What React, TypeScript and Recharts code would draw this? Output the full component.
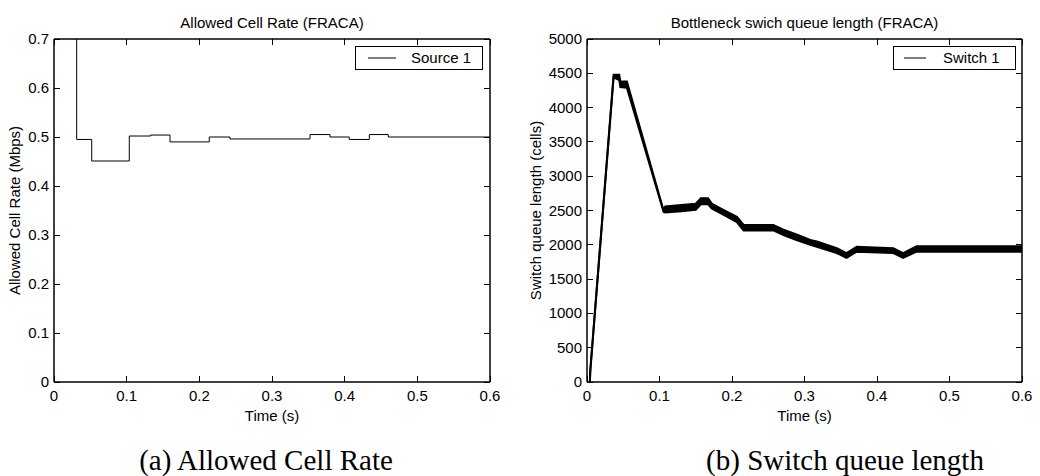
import React from 'react';
import { LineChart, Line, AreaChart, Area, XAxis, YAxis, Label } from 'recharts';

// allowed cell rate of source 1 (step function, Mbps)
const acrTime = [0, 0.0312, 0.0519, 0.1036, 0.133, 0.1596, 0.2137, 0.2422, 0.3523, 0.3798, 0.4063, 0.4339, 0.46, 0.6];
const acrRate = [1.0, 0.495, 0.451, 0.502, 0.504, 0.49, 0.5, 0.496, 0.505, 0.5, 0.495, 0.505, 0.5, 0.5];

// bottleneck switch queue (cells): the trace oscillates, so keep lower and upper edge of the band
const queueTime = [0.004, 0.0045, 0.0367, 0.0445, 0.046, 0.055, 0.1056, 0.108, 0.13, 0.15, 0.157, 0.167, 0.172, 0.188, 0.2067, 0.216, 0.257, 0.271, 0.289, 0.308, 0.317, 0.3445, 0.358, 0.372, 0.4225, 0.436, 0.4547, 0.6];
const queueLow = [0, 150, 4440, 4400, 4300, 4290, 2480, 2470, 2490, 2510, 2590, 2590, 2530, 2440, 2330, 2210, 2210, 2140, 2070, 2000, 1970, 1880, 1810, 1900, 1880, 1810, 1900, 1900];
const queueHigh = [0, 170, 4480, 4480, 4380, 4380, 2500, 2560, 2580, 2600, 2680, 2680, 2600, 2510, 2410, 2290, 2290, 2220, 2150, 2070, 2050, 1950, 1880, 1970, 1950, 1880, 1980, 1980];

const timeTicks = [0, 0.1, 0.2, 0.3, 0.4, 0.5, 0.6];
const rateTicks = [0, 0.1, 0.2, 0.3, 0.4, 0.5, 0.6, 0.7];
const queueTicks = [0, 500, 1000, 1500, 2000, 2500, 3000, 3500, 4000, 4500, 5000];

const acrData = acrTime.map((t, i) => ({ t, rate: acrRate[i] }));
const queueData = queueTime.map((t, i) => ({ t, band: [queueLow[i], queueHigh[i]] }));

const FONT = '"Liberation Sans", Arial, sans-serif';
const FS = 15;
const TL = 6; // inward tick length, matlab style
const axisLine = { stroke: '#000', strokeWidth: 1.5 };
const tickStroke = { stroke: '#000', strokeWidth: 1, shapeRendering: 'crispEdges' as const };

const BottomTick = ({ x, y, payload }: any) => (
  <g>
    <path d={`M${x},${y}V${y - TL}`} {...tickStroke} />
    <text x={x} y={y + 19} textAnchor="middle" fontSize={FS} fontFamily={FONT} fill="#000">
      {payload.value}
    </text>
  </g>
);
const TopTick = ({ x, y }: any) => <path d={`M${x},${y}V${y + TL}`} {...tickStroke} />;
const LeftTick = ({ x, y, payload }: any) => (
  <g>
    <path d={`M${x},${y}H${x + TL}`} {...tickStroke} />
    <text x={x - 5} y={y + 5} textAnchor="end" fontSize={FS} fontFamily={FONT} fill="#000">
      {payload.value}
    </text>
  </g>
);
const RightTick = ({ x, y }: any) => <path d={`M${x},${y}H${x - TL}`} {...tickStroke} />;

const txt = { fontSize: FS, fontFamily: FONT, fill: '#000' };

const timeLabel = ({ viewBox }: any) => (
  <text x={viewBox.x + viewBox.width / 2} y={viewBox.y + 39} textAnchor="middle" {...txt}>
    Time (s)
  </text>
);
const titleLabel = (value: string) => ({ viewBox }: any) => (
  <text x={viewBox.x + viewBox.width / 2} y={viewBox.y - 10} textAnchor="middle" {...txt}>
    {value}
  </text>
);
const yLabel = (value: string, dx: number) => ({ viewBox }: any) => {
  const cx = viewBox.x + viewBox.width - dx;
  const cy = viewBox.y + viewBox.height / 2;
  return (
    <text x={cx} y={cy} textAnchor="middle" dominantBaseline="central" transform={`rotate(-90 ${cx} ${cy})`} {...txt}>
      {value}
    </text>
  );
};

function LegendBox({ left, width, lineFrom, lineTo, textAt, label }: any) {
  return (
    <div style={{ position: 'absolute', left, top: 46, width, height: 24, boxSizing: 'border-box', border: '1px solid #000', background: '#fff' }}>
      <svg width={width} height={22} style={{ position: 'absolute', left: 0, top: 0 }}>
        <line x1={lineFrom} x2={lineTo} y1={11} y2={11} stroke="#000" strokeWidth={1} />
        <text x={textAt} y={16} {...txt}>{label}</text>
      </svg>
    </div>
  );
}

const caption = { position: 'absolute' as const, top: 444, width: 400, textAlign: 'center' as const, fontFamily: '"Liberation Serif", "Times New Roman", serif', fontSize: 29, lineHeight: '32px', color: '#000' };

// axes are 1px thick boxes so that recharts still draws them; margins make up the rest
const axisProps = { type: 'number' as const, interval: 0 as const, allowDataOverflow: true, tickSize: 0, tickMargin: 0, tickLine: false, axisLine };

export default function App() {
  return (
    <div style={{ position: 'absolute', left: 0, top: 0, width: 1040, height: 476, background: '#fff', overflow: 'hidden' }}>
      <div style={{ position: 'absolute', left: 0, top: 0 }}>
        <LineChart width={520} height={476} data={acrData} margin={{ top: 38, right: 29, bottom: 93, left: 53 }}>
          <XAxis dataKey="t" {...axisProps} domain={[0, 0.6]} ticks={timeTicks} height={1} tick={<BottomTick />}>
            <Label content={timeLabel} />
          </XAxis>
          <XAxis xAxisId="top" dataKey="t" orientation="top" {...axisProps} domain={[0, 0.6]} ticks={timeTicks} height={1} tick={<TopTick />}>
            <Label content={titleLabel('Allowed Cell Rate (FRACA)')} />
          </XAxis>
          <YAxis dataKey="rate" {...axisProps} domain={[0, 0.7]} ticks={rateTicks} width={1} tick={<LeftTick />}>
            <Label content={yLabel('Allowed Cell Rate (Mbps)', 40)} />
          </YAxis>
          <YAxis yAxisId="right" dataKey="rate" orientation="right" {...axisProps} domain={[0, 0.7]} ticks={rateTicks} width={1} tick={<RightTick />} />
          <Line dataKey="rate" type="stepAfter" stroke="#000" strokeWidth={1} dot={false} activeDot={false} isAnimationActive={false} />
        </LineChart>
      </div>
      <div style={{ position: 'absolute', left: 520, top: 0 }}>
        <AreaChart width={520} height={476} data={queueData} margin={{ top: 38, right: 17, bottom: 93, left: 66 }}>
          <XAxis dataKey="t" {...axisProps} domain={[0, 0.6]} ticks={timeTicks} height={1} tick={<BottomTick />}>
            <Label content={timeLabel} />
          </XAxis>
          <XAxis xAxisId="top" dataKey="t" orientation="top" {...axisProps} domain={[0, 0.6]} ticks={timeTicks} height={1} tick={<TopTick />}>
            <Label content={titleLabel('Bottleneck swich queue length (FRACA)')} />
          </XAxis>
          <YAxis {...axisProps} domain={[0, 5000]} ticks={queueTicks} width={1} tick={<LeftTick />}>
            <Label content={yLabel('Switch queue length (cells)', 52)} />
          </YAxis>
          <YAxis yAxisId="right" dataKey="band" orientation="right" {...axisProps} domain={[0, 5000]} ticks={queueTicks} width={1} tick={<RightTick />} />
          <Area dataKey="band" type="linear" stroke="#000" strokeWidth={2} fill="#000" fillOpacity={1} dot={false} activeDot={false} isAnimationActive={false} />
        </AreaChart>
      </div>
      <LegendBox left={355} width={128} lineFrom={12} lineTo={40} textAt={55} label="Source 1" />
      <LegendBox left={893} width={123} lineFrom={10} lineTo={32} textAt={49} label="Switch 1" />
      <div style={{ ...caption, left: 266 - 200 }}>(a) Allowed Cell Rate</div>
      <div style={{ ...caption, left: 845 - 200 }}>(b) Switch queue length</div>
    </div>
  );
}
